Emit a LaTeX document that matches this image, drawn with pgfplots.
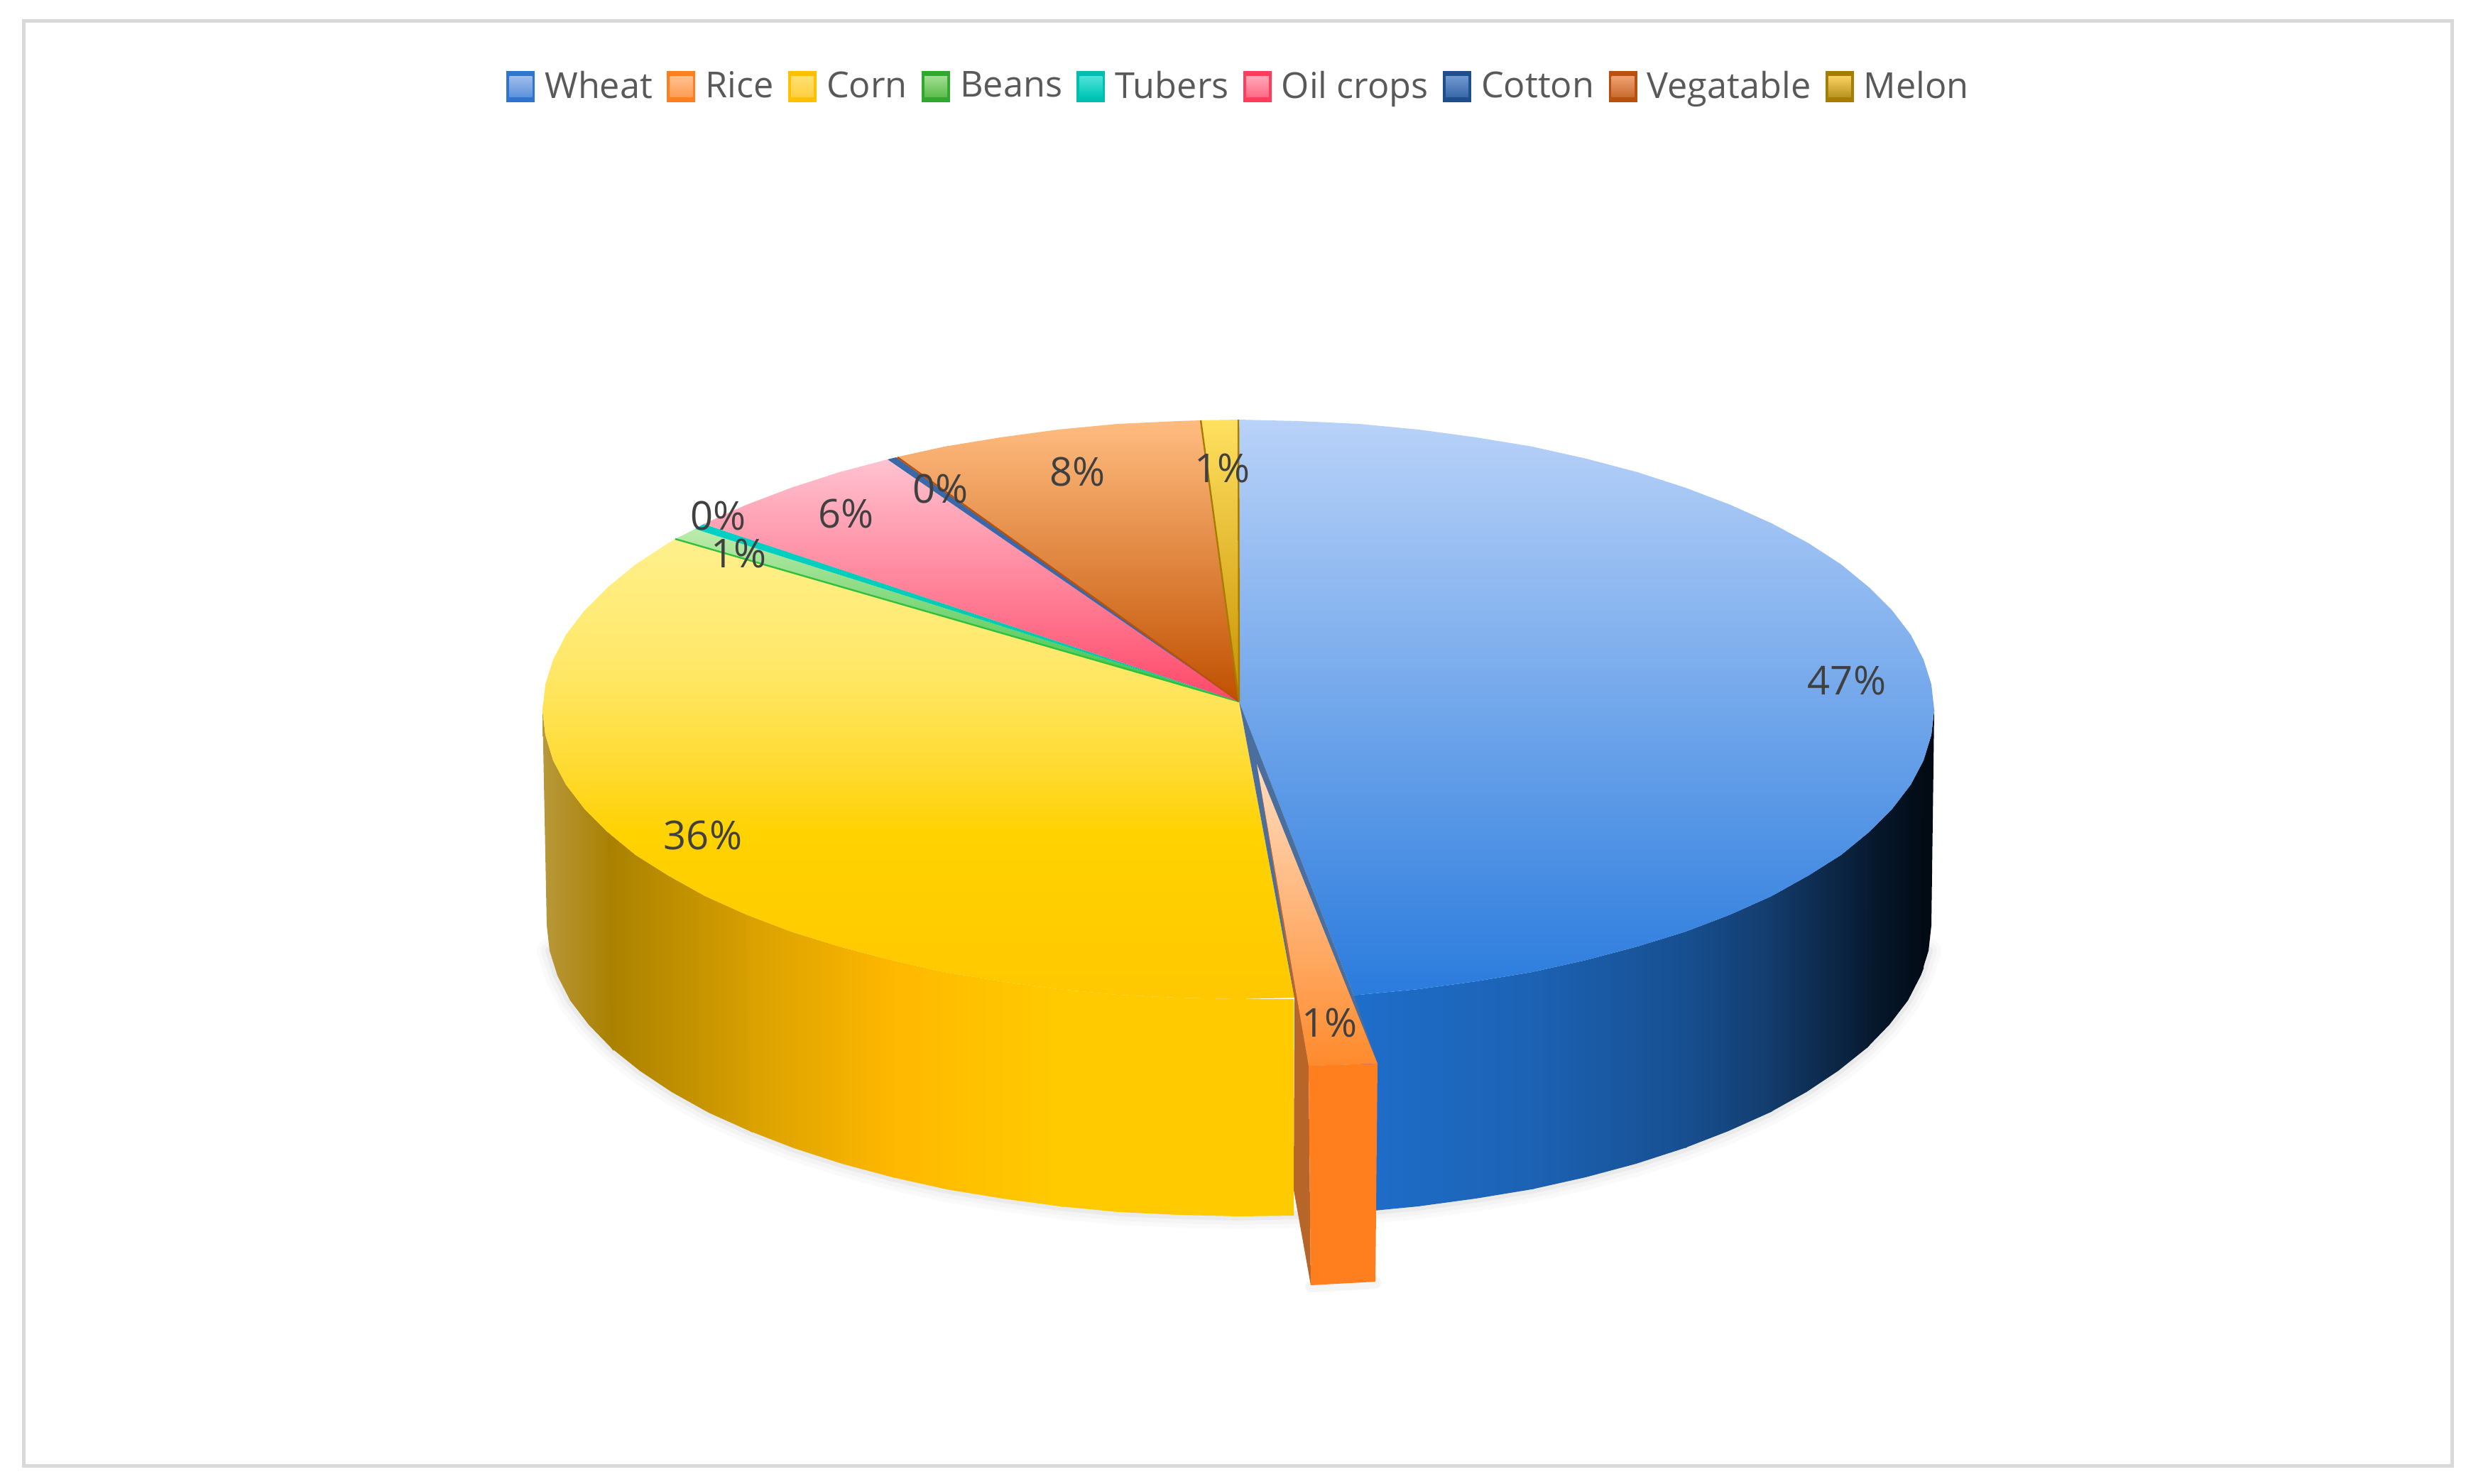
\documentclass[border=0pt]{standalone}
\usepackage{pgfplots}
\pgfplotsset{compat=1.18}
\usepackage{fontspec}
\setmainfont{Open Sans}
\definecolor{lbl}{HTML}{404040}
\definecolor{legt}{HTML}{595959}
\newcommand{\swatch}[3]{\addlegendimage{legend image code/.code={%
  \path[fill=#1, draw=none] (0pt,-5.5pt) rectangle (10pt,5.5pt);
  \path[draw=none, top color=#2, bottom color=#3] (1.0pt,-3.6pt) rectangle (9.0pt,3.6pt);}}}
\definecolor{a1}{HTML}{2F75CF}\definecolor{a2}{HTML}{9DBDEB}\definecolor{a3}{HTML}{5C92DC}
\definecolor{b1}{HTML}{FF7F1E}\definecolor{b2}{HTML}{FFC090}\definecolor{b3}{HTML}{FF9C54}
\definecolor{c1}{HTML}{FFC000}\definecolor{c2}{HTML}{FFDF70}\definecolor{c3}{HTML}{FFD040}
\definecolor{d1}{HTML}{30A830}\definecolor{d2}{HTML}{A0DC90}\definecolor{d3}{HTML}{5CBC4C}
\definecolor{e1}{HTML}{00BFB0}\definecolor{e2}{HTML}{50E0D8}\definecolor{e3}{HTML}{00C8B8}
\definecolor{f1}{HTML}{FF3C5A}\definecolor{f2}{HTML}{FFA8B8}\definecolor{f3}{HTML}{FF6A84}
\definecolor{g1}{HTML}{1F4E8C}\definecolor{g2}{HTML}{7098D0}\definecolor{g3}{HTML}{3A68A8}
\definecolor{h1}{HTML}{B85010}\definecolor{h2}{HTML}{F0A070}\definecolor{h3}{HTML}{C86C30}
\definecolor{i1}{HTML}{A87C00}\definecolor{i2}{HTML}{F8D060}\definecolor{i3}{HTML}{B89420}
% walls
\definecolor{wa}{HTML}{B8983A}\definecolor{wb}{HTML}{A98000}\definecolor{wc}{HTML}{D8A000}
\definecolor{wd}{HTML}{FFB800}\definecolor{we}{HTML}{FFCB00}
\definecolor{ba}{HTML}{1E6ECB}\definecolor{bb}{HTML}{1C62B4}\definecolor{bc}{HTML}{174F90}
\definecolor{bd}{HTML}{133C6C}\definecolor{be}{HTML}{071A30}\definecolor{bf}{HTML}{020A14}
% tops
\definecolor{wh1}{HTML}{B9D2F8}\definecolor{wh2}{HTML}{2A7BDD}
\definecolor{co1}{HTML}{FFF08C}\definecolor{co2}{HTML}{FFE765}\definecolor{co3}{HTML}{FFDA30}\definecolor{co4}{HTML}{FFD200}\definecolor{co5}{HTML}{FFC800}
\definecolor{be1}{HTML}{BDEBAA}\definecolor{be2}{HTML}{30C040}
\definecolor{tu1}{HTML}{00D0C8}\definecolor{tu2}{HTML}{00C8A0}
\definecolor{oi1}{HTML}{FFC2D0}\definecolor{oi2}{HTML}{FF4868}
\definecolor{ve1}{HTML}{FFBC80}\definecolor{ve2}{HTML}{C05000}
\definecolor{me1}{HTML}{FFE060}\definecolor{me2}{HTML}{C89000}
\definecolor{ri1}{HTML}{FFDCC0}\definecolor{ri2}{HTML}{FF8A2C}
\definecolor{gapc}{HTML}{4A6E9E}
\definecolor{riside}{HTML}{B8652A}
\pgfdeclareverticalshading{cornsh}{100bp}{color(0bp)=(co5); color(25bp)=(co5); color(42.8bp)=(co4); color(50bp)=(co3); color(60bp)=(co2); color(75bp)=(co1); color(100bp)=(co1)}
\begin{document}
\begin{tikzpicture}
\begin{axis}[
  scale only axis, width=870pt, height=522.25pt,
  xmin=0, xmax=3480, ymin=0, ymax=2089, y dir=reverse,
  axis lines=none, ticks=none, clip=false,
  legend columns=9,
  legend cell align=left,
  legend style={at={(axis cs:1750,122)}, anchor=center, draw=none, fill=none,
    font=\fontsize{12.6pt}{15pt}\selectfont, text=legt, inner sep=0pt, outer sep=0pt,
    nodes={inner xsep=3.5pt, inner ysep=1pt},
    /tikz/every even column/.append style={column sep=1.6pt}},
]
% page extent
\path (axis cs:0,0) rectangle (axis cs:3480,2089);
% frame
\addplot[forget plot, draw=black!15, line width=1.25pt, fill=white]
 coordinates {(33,29)(3453,29)(3453,2064)(33,2064)} --cycle;
% soft shadow under the pie
\addplot[forget plot, draw=black, opacity=0.018, line width=9pt, line cap=round]
 coordinates {(774,1339)(785,1374)(803,1409)(829,1443)(861,1476)(901,1508)(946,1538)(998,1567)(1056,1593)(1118,1617)(1186,1639)(1257,1658)(1333,1675)(1412,1688)(1493,1699)(1576,1707)(1660,1711)(1745,1713)(1830,1711)(1914,1707)(1997,1699)(2078,1688)(2157,1675)(2233,1658)(2304,1639)(2372,1617)(2434,1593)(2492,1567)(2544,1538)(2589,1508)(2629,1476)(2661,1443)(2687,1409)(2705,1374)(2716,1339)};
\addplot[forget plot, draw=black, opacity=0.025, line width=6pt, line cap=round]
 coordinates {(774,1339)(785,1374)(803,1409)(829,1443)(861,1476)(901,1508)(946,1538)(998,1567)(1056,1593)(1118,1617)(1186,1639)(1257,1658)(1333,1675)(1412,1688)(1493,1699)(1576,1707)(1660,1711)(1745,1713)(1830,1711)(1914,1707)(1997,1699)(2078,1688)(2157,1675)(2233,1658)(2304,1639)(2372,1617)(2434,1593)(2492,1567)(2544,1538)(2589,1508)(2629,1476)(2661,1443)(2687,1409)(2705,1374)(2716,1339)};
\addplot[forget plot, draw=black, opacity=0.04, line width=3pt, line cap=round]
 coordinates {(774,1339)(785,1374)(803,1409)(829,1443)(861,1476)(901,1508)(946,1538)(998,1567)(1056,1593)(1118,1617)(1186,1639)(1257,1658)(1333,1675)(1412,1688)(1493,1699)(1576,1707)(1660,1711)(1745,1713)(1830,1711)(1914,1707)(1997,1699)(2078,1688)(2157,1675)(2233,1658)(2304,1639)(2372,1617)(2434,1593)(2492,1567)(2544,1538)(2589,1508)(2629,1476)(2661,1443)(2687,1409)(2705,1374)(2716,1339)};
% rice shadow
\addplot[forget plot, draw=black, opacity=0.04, line width=4pt, line cap=round]
 coordinates {(1846,1812)(1937,1807)};
% corn wall: strips, overlapping by one step so no seam shows
\addplot[forget plot, draw=none, left color=wa, right color=wb]
 coordinates {(764,1000)(768,1035)(779,1071)(797,1105)(823,1139)(856,1172)(860,1172)(864,1480)(861,1476)(829,1443)(803,1409)(785,1374)(774,1339)(770,1303)} --cycle;
\addplot[forget plot, draw=none, left color=wb, right color=wc]
 coordinates {(856,1172)(895,1204)(941,1233)(993,1262)(1051,1288)(1056,1290)(1060,1595)(1056,1593)(998,1567)(946,1538)(901,1508)(861,1476)} --cycle;
\addplot[forget plot, draw=none, left color=wc, right color=wd]
 coordinates {(1051,1288)(1114,1312)(1182,1333)(1254,1352)(1258,1353)(1261,1659)(1257,1658)(1186,1639)(1118,1617)(1056,1593)} --cycle;
\addplot[forget plot, draw=none, left color=wd, right color=we]
 coordinates {(1254,1352)(1330,1369)(1409,1382)(1490,1393)(1494,1394)(1497,1700)(1493,1699)(1412,1688)(1333,1675)(1257,1658)} --cycle;
\addplot[forget plot, draw=none, fill=we]
 coordinates {(1490,1393)(1574,1401)(1659,1405)(1744,1407)(1822,1407)(1822,1712)(1745,1713)(1660,1711)(1576,1707)(1493,1699)} --cycle;
% wheat wall
\addplot[forget plot, draw=none, left color=ba, right color=bb]
 coordinates {(1900,1403)(1914,1401)(1998,1393)(2079,1382)(2158,1369)(2162,1368)(2161,1674)(2157,1675)(2078,1688)(1997,1699)(1914,1707)(1900,1708)} --cycle;
\addplot[forget plot, draw=none, left color=bb, right color=bc]
 coordinates {(2158,1369)(2234,1352)(2306,1333)(2374,1312)(2378,1311)(2376,1616)(2372,1617)(2304,1639)(2233,1658)(2157,1675)} --cycle;
\addplot[forget plot, draw=none, left color=bc, right color=bd]
 coordinates {(2374,1312)(2437,1288)(2495,1262)(2499,1260)(2496,1565)(2492,1567)(2434,1593)(2372,1617)} --cycle;
\addplot[forget plot, draw=none, left color=bd, right color=be]
 coordinates {(2495,1262)(2547,1233)(2593,1204)(2632,1172)(2636,1168)(2633,1472)(2629,1476)(2589,1508)(2544,1538)(2492,1567)} --cycle;
\addplot[forget plot, draw=none, left color=be, right color=bf]
 coordinates {(2632,1172)(2665,1139)(2691,1105)(2709,1071)(2713,1060)(2709,1364)(2705,1374)(2687,1409)(2661,1443)(2629,1476)} --cycle;
\addplot[forget plot, draw=none, fill=bf]
 coordinates {(2709,1071)(2720,1035)(2724,1000)(2720,1303)(2716,1339)(2705,1374)} --cycle;
% top: wheat
\addplot[forget plot, draw=none, top color=wh1, bottom color=wh2]
 coordinates {(1745,988)(1744,591)(1829,593)(1914,597)(1998,605)(2079,616)(2158,629)(2234,646)(2306,665)(2374,687)(2437,711)(2495,737)(2547,765)(2593,795)(2632,827)(2665,860)(2691,894)(2709,929)(2720,964)(2724,1000)(2720,1035)(2709,1071)(2691,1105)(2665,1139)(2632,1172)(2593,1204)(2547,1233)(2495,1262)(2437,1288)(2374,1312)(2306,1333)(2234,1352)(2158,1369)(2079,1382)(1998,1393)(1914,1401)(1907,1403)} --cycle;
% top: corn
\addplot[forget plot, draw=none, shading=cornsh]
 coordinates {(1745,988)(1823,1405)(1744,1407)(1659,1405)(1574,1401)(1490,1393)(1409,1382)(1330,1369)(1254,1352)(1182,1333)(1114,1312)(1051,1288)(993,1262)(941,1233)(895,1204)(856,1172)(823,1139)(797,1105)(779,1071)(768,1035)(764,1000)(768,964)(779,929)(797,894)(823,860)(856,827)(895,795)(941,765)(951,759)} --cycle;
% top: beans, tubers, oil crops, cotton, vegetable, melon
\addplot[forget plot, draw=none, top color=be1, bottom color=be2]
 coordinates {(1745,988)(951,759)(979,745)} --cycle;
\addplot[forget plot, draw=be2, line width=0.6pt] coordinates {(1745,988)(951,759)};
\addplot[forget plot, draw=none, top color=tu1, bottom color=tu2]
 coordinates {(1745,988)(979,745)(991,738)} --cycle;
\addplot[forget plot, draw=none, top color=oi1, bottom color=oi2]
 coordinates {(1745,988)(991,738)(1051,711)(1114,687)(1182,665)(1250,647)} --cycle;
\addplot[forget plot, draw=none, fill=g3]
 coordinates {(1745,988)(1250,647)(1262,644)} --cycle;
\addplot[forget plot, draw=none, top color=ve1, bottom color=ve2]
 coordinates {(1745,988)(1262,644)(1330,629)(1409,616)(1490,605)(1574,597)(1659,593)(1691,592)} --cycle;
\addplot[forget plot, draw=h1, line width=0.6pt]
 coordinates {(1745,988)(1264,644)};
\addplot[forget plot, draw=none, top color=me1, bottom color=me2]
 coordinates {(1745,988)(1691,592)(1744,591)} --cycle;
\addplot[forget plot, draw=i1, line width=0.6pt]
 coordinates {(1691,592)(1745,988)(1744,591)};
% rice, pulled out; the gap it leaves shows a slate tone
\addplot[forget plot, draw=none, fill=gapc]
 coordinates {(1745,988)(1907,1403)(1940,1498)(1843,1501)(1823,1405)} --cycle;
\addplot[forget plot, draw=none, fill=riside]
 coordinates {(1770,1076)(1843,1501)(1846,1810)(1822,1676)(1823,1405)} --cycle;
\addplot[forget plot, draw=none, fill=b1]
 coordinates {(1843,1501)(1940,1498)(1937,1805)(1846,1810)} --cycle;
\addplot[forget plot, draw=none, top color=ri1, bottom color=ri2]
 coordinates {(1770,1076)(1940,1498)(1843,1501)} --cycle;
% labels
\node[text=lbl, font=\fontsize{14pt}{16pt}\selectfont] at (axis cs:2601,958) {47\%};
\node[text=lbl, font=\fontsize{14pt}{16pt}\selectfont] at (axis cs:990,1176) {36\%};
\node[text=lbl, font=\fontsize{14pt}{16pt}\selectfont] at (axis cs:1873,1440) {1\%};
\node[text=lbl, font=\fontsize{14pt}{16pt}\selectfont] at (axis cs:1518,664) {8\%};
\node[text=lbl, font=\fontsize{14pt}{16pt}\selectfont] at (axis cs:1722,659) {1\%};
\node[text=lbl, font=\fontsize{14pt}{16pt}\selectfont] at (axis cs:1325,688) {0\%};
\node[text=lbl, font=\fontsize{14pt}{16pt}\selectfont] at (axis cs:1192,723) {6\%};
\node[text=lbl, font=\fontsize{14pt}{16pt}\selectfont] at (axis cs:1012,726) {0\%};
\node[text=lbl, font=\fontsize{14pt}{16pt}\selectfont] at (axis cs:1041,779) {1\%};
% legend
\swatch{a1}{a2}{a3}\addlegendentry{Wheat}
\swatch{b1}{b2}{b3}\addlegendentry{Rice}
\swatch{c1}{c2}{c3}\addlegendentry{Corn}
\swatch{d1}{d2}{d3}\addlegendentry{Beans}
\swatch{e1}{e2}{e3}\addlegendentry{Tubers}
\swatch{f1}{f2}{f3}\addlegendentry{Oil crops}
\swatch{g1}{g2}{g3}\addlegendentry{Cotton}
\swatch{h1}{h2}{h3}\addlegendentry{Vegatable}
\swatch{i1}{i2}{i3}\addlegendentry{Melon}
\end{axis}
\end{tikzpicture}
\end{document}
